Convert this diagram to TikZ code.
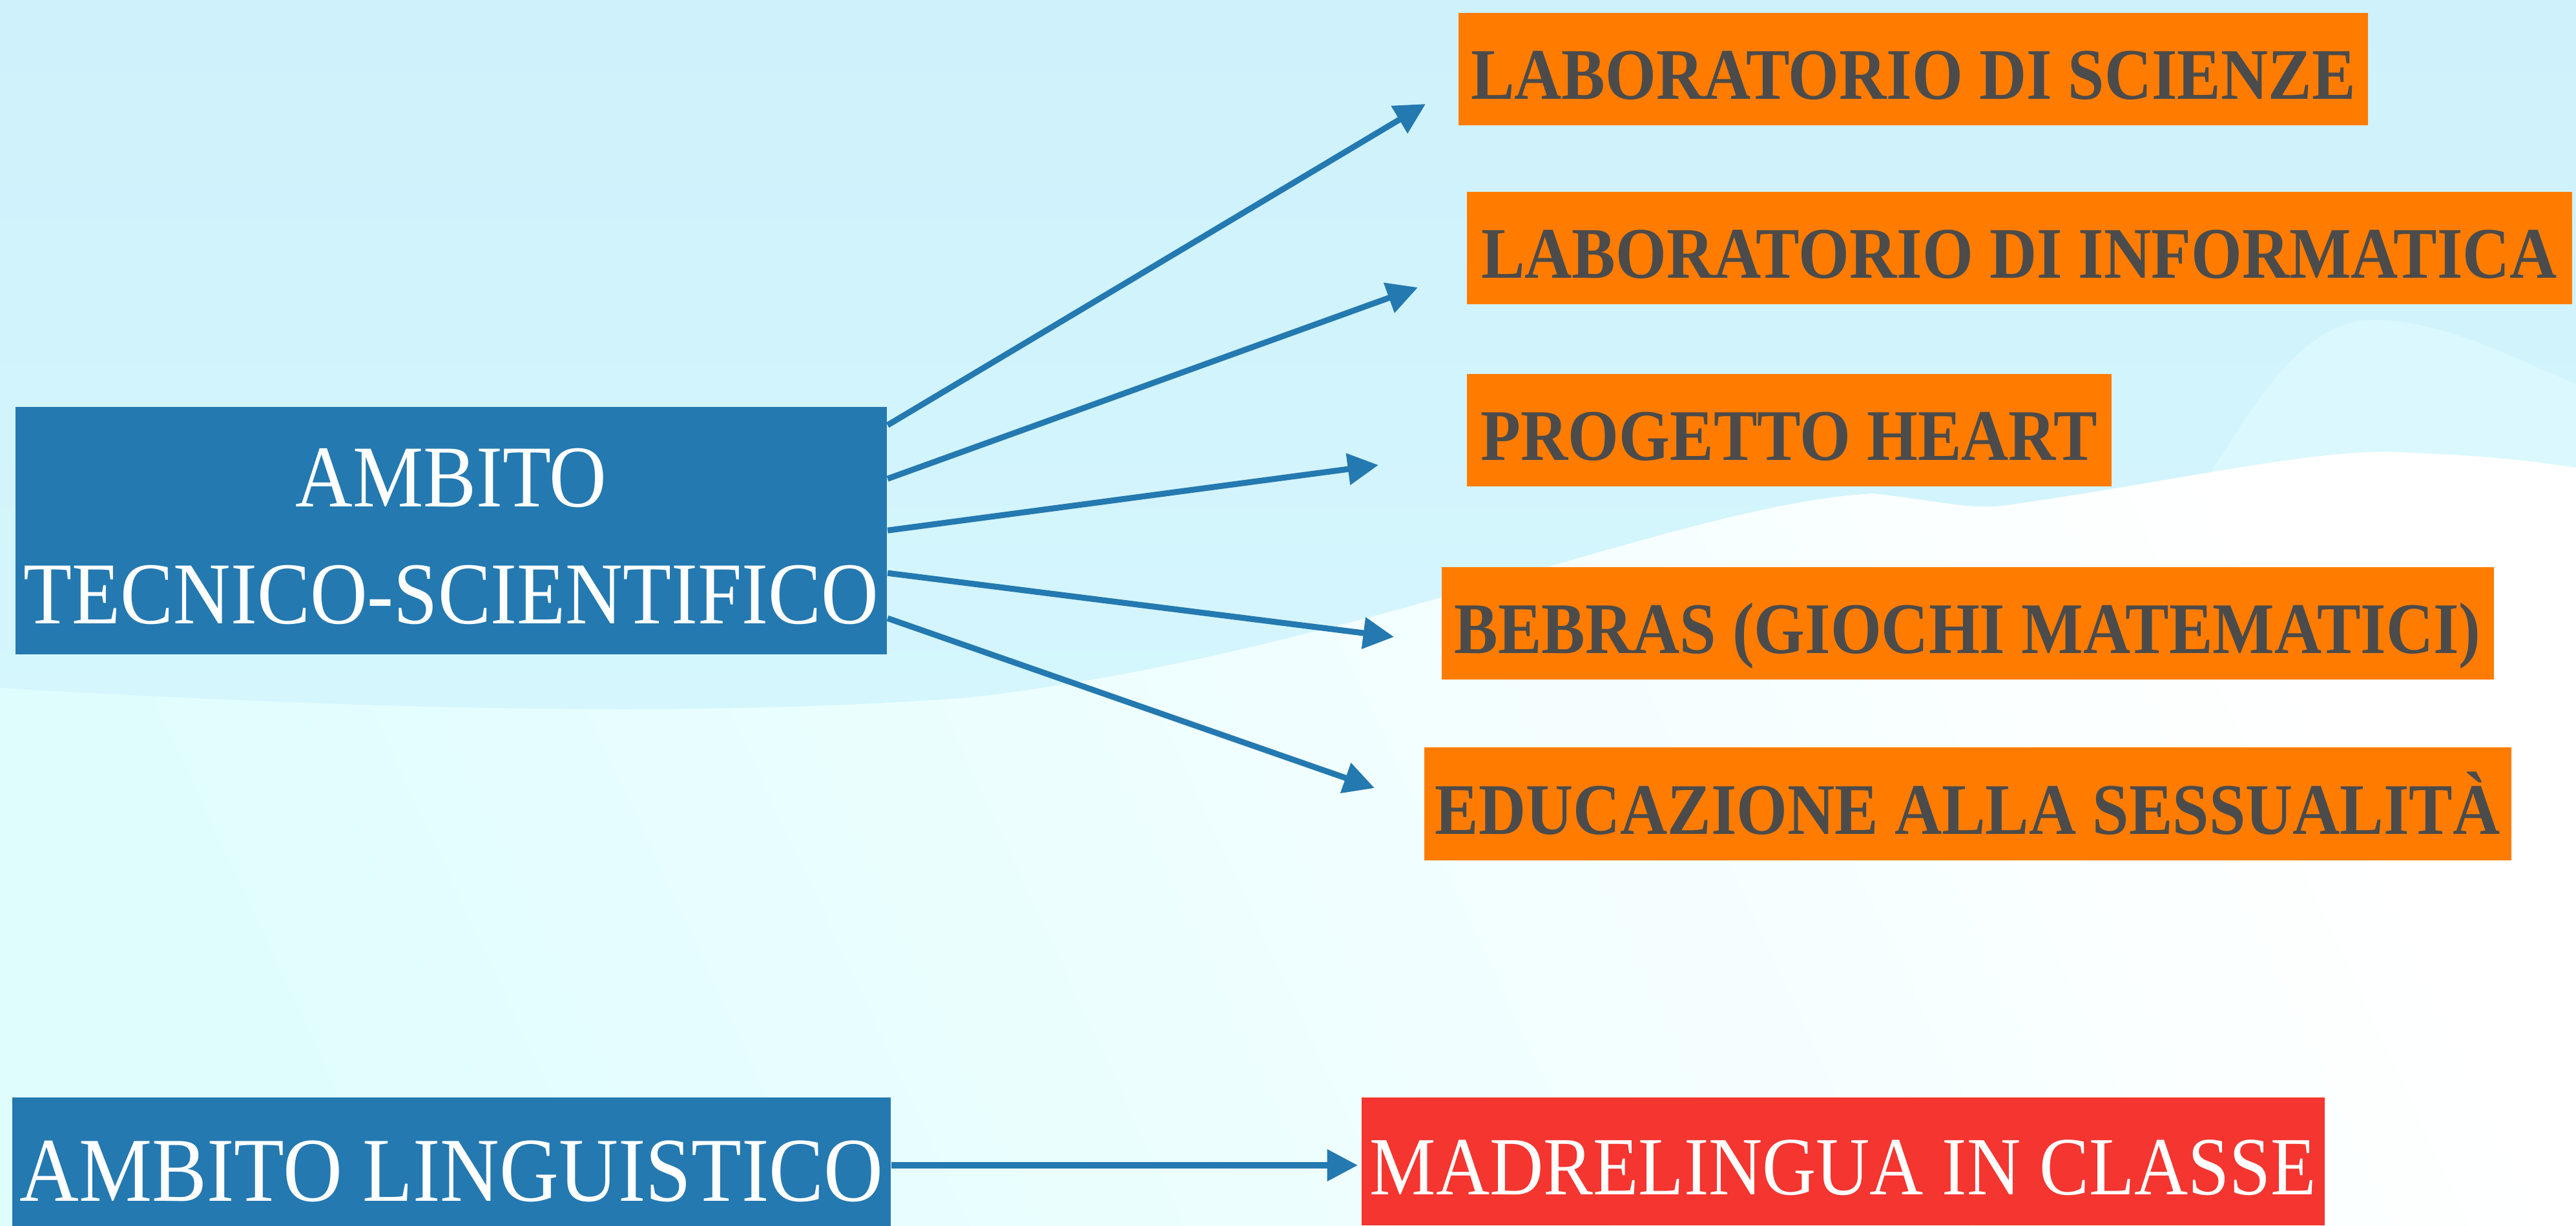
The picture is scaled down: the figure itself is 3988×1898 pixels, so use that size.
\documentclass[tikz,border=0pt]{standalone}
\usepackage{fontspec}
\setmainfont{Liberation Serif}
\newfontfamily\cond[FakeStretch=0.9]{Liberation Serif}
\usetikzlibrary{arrows.meta,calc}
\definecolor{boxblue}{HTML}{2479B0}
\definecolor{boxorange}{HTML}{FF7C00}
\definecolor{boxred}{HTML}{F43530}
\definecolor{txtgrey}{HTML}{4B4B4B}
\definecolor{bgtop}{HTML}{CEF1FB}
\definecolor{bgmid}{HTML}{D5F6FD}
\definecolor{bglow}{HTML}{E0FDFE}
\definecolor{bgwave}{HTML}{DAF8FD}
\begin{document}
\begin{tikzpicture}[x=0.01cm,y=-0.01cm,
  bluebox/.style={fill=boxblue, inner sep=0pt},
  orangebox/.style={fill=boxorange, inner sep=0pt, minimum height=1.74cm,
    text=txtgrey, font=\cond\bfseries\fontsize{32}{38}\selectfont,
    text height=0.93cm, text depth=0pt},
  whitetext/.style={text=white, inner sep=0pt},
  arr/.style={draw=boxblue, line width=2.6pt, -{Triangle[length=13.5pt,width=13.5pt]}}
]
% background
\useasboundingbox (0,0) rectangle (3988,1898);
\fill[white] (0,0) rectangle (3988,1898);
\shade[top color=bgtop, bottom color=bgmid] (0,0) rectangle (3988,1120);
\fill[bgwave] (3380,800) .. controls (3480,640) and (3560,490) .. (3680,495)
  .. controls (3800,500) and (3900,560) .. (3988,594) -- (3988,800) -- cycle;
\shade[top color=white, bottom color=bglow, shading angle=-65]
  (0,1065) .. controls (600,1100) and (1100,1110) .. (1500,1080)
  .. controls (2100,1010) and (2600,780) .. (2900,764)
  .. controls (3000,775) and (3050,790) .. (3108,782)
  .. controls (3400,740) and (3600,690) .. (3733,701)
  .. controls (3850,705) and (3930,715) .. (3988,724)
  -- (3988,1898) -- (0,1898) -- cycle;

% left boxes
\node[bluebox, minimum width=13.49cm, minimum height=3.83cm] (A) at (698.5,821.5) {};
\node[whitetext, align=center, font=\cond\fontsize{38.8}{51.5}\selectfont] (At) at (698.5,830.5)
  {AMBITO\\TECNICO-SCIENTIFICO};
\node[bluebox, whitetext, minimum width=13.60cm, minimum height=1.99cm,
  font=\cond\fontsize{40.2}{48}\selectfont, text height=1.22cm, text depth=0pt] (B) at (699,1798.5)
  {AMBITO LINGUISTICO};

% right boxes
\node[orangebox, minimum width=14.08cm] (O1) at (2962,107) {LABORATORIO DI SCIENZE};
\node[orangebox, minimum width=17.10cm] (O2) at (3126,384) {LABORATORIO DI INFORMATICA};
\node[orangebox, minimum width=9.98cm] (O3) at (2770,666) {PROGETTO HEART};
\node[orangebox, minimum width=16.28cm] (O4) at (3046,965) {BEBRAS (GIOCHI MATEMATICI)};
\node[orangebox, minimum width=16.82cm] (O5) at (3046,1244.5) {EDUCAZIONE ALLA SESSUALITÀ};
\node[fill=boxred, whitetext, minimum width=14.91cm, minimum height=1.98cm,
  font=\cond\fontsize{36.4}{44}\selectfont, text height=1.02cm, text depth=0pt] (R) at (2853.5,1798)
  {MADRELINGUA IN CLASSE};

% arrow ends
\coordinate (t1) at (2207,161);
\coordinate (t2) at (2195,445);
\coordinate (t3) at (2134,720);
\coordinate (t4) at (2158,986);
\coordinate (t5) at (2128,1220);
\coordinate (tb) at (2102,1804);

\draw[arr] ($(A.north east)+(0,29)$) -- (t1);
\draw[arr] ($(A.north east)+(0,112)$) -- (t2);
\draw[arr] ($(A.north east)+(0,192)$) -- (t3);
\draw[arr] ($(A.north east)+(0,258)$) -- (t4);
\draw[arr] ($(A.north east)+(0,328)$) -- (t5);
\draw[arr] (B.east |- tb) -- (tb);
\end{tikzpicture}
\end{document}
